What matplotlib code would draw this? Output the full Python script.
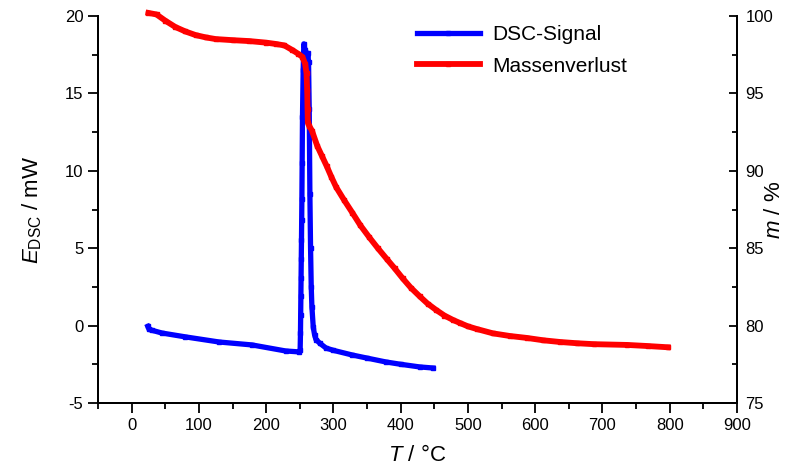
import matplotlib
matplotlib.use("Agg")
import matplotlib.pyplot as plt
from matplotlib.ticker import MultipleLocator

plt.rcParams['font.family'] = ['Liberation Sans', 'DejaVu Sans']
plt.rcParams['mathtext.fontset'] = 'custom'
plt.rcParams['mathtext.rm'] = 'Liberation Sans'
plt.rcParams['mathtext.it'] = 'Liberation Sans:italic'
plt.rcParams['axes.unicode_minus'] = False

# DSC signal (left axis, mW)
T_dsc = [24, 26, 30, 45, 80, 130, 179, 229, 249, 250.5, 251, 251.3, 251.6, 251.9, 252.2,
         252.5, 252.8, 253.1, 253.5, 254, 255, 256, 258, 260, 262, 263, 264, 265, 266,
         267, 268, 270, 272, 274, 280, 289, 300, 328, 350, 378, 400, 428, 448]
E_dsc = [-0.05, -0.25, -0.3, -0.48, -0.73, -1.06, -1.25, -1.64, -1.70, -1.6, -0.5, 0.7,
         1.9, 3.1, 4.3, 5.5, 6.8, 8.2, 10.5, 13.5, 16.5, 18.2, 17.8, 16.8, 17.6, 17.0,
         14.0, 8.5, 5.0, 2.5, 1.2, -0.1, -0.6, -0.9, -1.15, -1.45, -1.6, -1.9, -2.1,
         -2.35, -2.5, -2.67, -2.74]

# Mass loss (right axis, %)
T_m = [25, 37, 50, 65, 80, 95, 110, 125, 150, 175, 200, 215, 227, 239, 248, 254, 258, 260,
       261, 261.5, 262, 264, 268, 276, 283, 290, 297, 304, 316, 328, 340, 353, 366, 379,
       391, 403, 415, 428, 440, 453, 465, 478, 488, 500, 513, 537, 562, 588, 612, 637,
       662, 687, 737, 767, 797]
m_pct = [100.2, 100.1, 99.7, 99.29, 99.0, 98.77, 98.62, 98.51, 98.44, 98.38, 98.28, 98.19,
         98.1, 97.8, 97.55, 97.35, 96.9, 96.3, 95.2, 94.0, 93.1, 92.9, 92.6, 91.6, 90.95,
         90.3, 89.6, 88.95, 88.1, 87.3, 86.48, 85.72, 85.0, 84.32, 83.7, 83.05, 82.45,
         81.9, 81.42, 81.0, 80.65, 80.36, 80.17, 79.95, 79.78, 79.5, 79.33, 79.2, 79.05,
         78.94, 78.86, 78.8, 78.75, 78.68, 78.6]

fig = plt.figure(figsize=(8.06, 4.71), dpi=100)
ax = fig.add_axes([0.1216, 0.1444, 0.7928, 0.8216])
ax2 = ax.twinx()

l1, = ax.plot(T_dsc, E_dsc, color='#0000FF', lw=3.8, marker='s', ms=3,
              mfc='#0000FF', mec='#0000FF', label='DSC-Signal', zorder=3, clip_on=False)
l2, = ax2.plot(T_m, m_pct, color='#FF0000', lw=4.2, marker='s', ms=2.5,
               mfc='#FF0000', mec='#FF0000', label='Massenverlust', zorder=3, clip_on=False)

ax.set_xlim(-50, 900)
ax.set_ylim(-5, 20)
ax2.set_ylim(75, 100)

for a in (ax, ax2):
    a.spines['top'].set_visible(False)
    for s in a.spines.values():
        s.set_linewidth(1.4)

ax.xaxis.set_major_locator(MultipleLocator(100))
ax.xaxis.set_minor_locator(MultipleLocator(50))
ax.yaxis.set_major_locator(MultipleLocator(5))
ax.yaxis.set_minor_locator(MultipleLocator(2.5))
ax2.yaxis.set_major_locator(MultipleLocator(5))
ax2.yaxis.set_minor_locator(MultipleLocator(2.5))

ax.tick_params(axis='both', which='major', direction='out', length=7, width=1.3,
               labelsize=12, top=False, right=False)
ax.tick_params(axis='both', which='minor', direction='out', length=4, width=1.3,
               top=False, right=False)
ax2.tick_params(axis='y', which='major', direction='in', length=6, width=1.3,
                labelsize=12, pad=6)
ax2.tick_params(axis='y', which='minor', direction='in', length=3.5, width=1.3)

ax.set_xlabel(r'$\mathit{T}$ / °C', fontsize=16, labelpad=9)
ax.set_ylabel(r'$\mathit{E}_{\mathrm{DSC}}$ / mW', fontsize=16)
ax2.set_ylabel(r'$\mathit{m}$ / %', fontsize=16)
ax.yaxis.set_label_coords(-0.084, 0.5)
ax2.yaxis.set_label_coords(1.042, 0.5)

leg = ax.legend(handles=[l1, l2], loc='upper left', bbox_to_anchor=(0.47, 1.025),
                frameon=False, fontsize=15, numpoints=1, handlelength=3.0,
                handletextpad=0.6, labelspacing=0.6)

fig.savefig('out.png', dpi=100)
